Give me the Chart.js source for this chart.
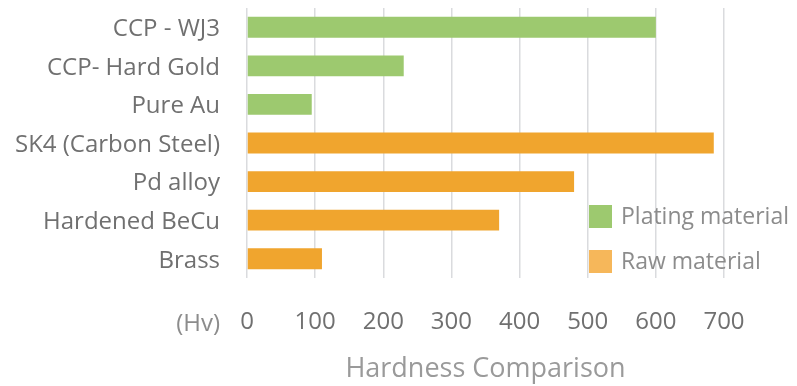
<!DOCTYPE html>
<html>
<head>
<meta charset="utf-8">
<script src="https://cdn.jsdelivr.net/npm/chart.js@4/dist/chart.umd.min.js"></script>
<style>
  html, body { margin: 0; padding: 0; background: #ffffff; }
  #wrap { position: relative; width: 797px; height: 386px; }
</style>
</head>
<body>
<div id="wrap"><canvas id="c" width="797" height="386"></canvas></div>
<script>
const categories = ["CCP - WJ3", "CCP- Hard Gold", "Pure Au", "SK4 (Carbon Steel)", "Pd alloy", "Hardened BeCu", "Brass"];
const platingValues = [600, 230, 95, null, null, null, null];
const rawValues = [null, null, null, 685, 480, 370, 110];
const seriesNames = ["Plating material", "Raw material"];
const xTicks = [0, 100, 200, 300, 400, 500, 600, 700];
const unitLabel = "(Hv)";
const axisTitle = "Hardness Comparison";

const FONT = "'Open Sans', Lato, sans-serif";
const barColors = ["#9DC96F", "#F0A52E"];
const legendColors = ["#9DC96F", "#F6B75A"];

const extrasPlugin = {
  id: 'extras',
  afterDraw(chart) {
    const ctx = chart.ctx;
    const area = chart.chartArea;
    const xs = chart.scales.x;
    ctx.save();
    const tickY = xs.top + 46;
    ctx.font = "24px " + FONT;
    ctx.fillStyle = "#8c8c8c";
    ctx.textAlign = "right";
    ctx.textBaseline = "middle";
    ctx.fillText(unitLabel, area.left - 27, tickY);
    ctx.textAlign = "left";
    chart.data.datasets.forEach((ds, i) => {
      const bx = area.right - 135;
      const by = area.top + 197 + i * 45;
      ctx.fillStyle = legendColors[i];
      ctx.fillRect(bx, by, 23, 23);
      ctx.fillStyle = "#8c8c8c";
      ctx.font = "23px " + FONT;
      ctx.fillText(ds.label, bx + 32, by + 12);
    });
    ctx.restore();
  }
};

function noAutoPad(scale) {
  scale.paddingTop = 0;
  scale.paddingBottom = 0;
  scale.paddingLeft = 0;
  scale.paddingRight = 0;
}

new Chart(document.getElementById('c'), {
  type: 'bar',
  data: {
    labels: categories,
    datasets: [
      { label: seriesNames[0], data: platingValues, backgroundColor: barColors[0] },
      { label: seriesNames[1], data: rawValues, backgroundColor: barColors[1] }
    ]
  },
  options: {
    indexAxis: 'y',
    responsive: false,
    animation: false,
    devicePixelRatio: 1,
    layout: { autoPadding: false, padding: { top: 8, right: 73, bottom: 0, left: 0 } },
    datasets: { bar: { grouped: false, barPercentage: 0.54, categoryPercentage: 1.0 } },
    plugins: { legend: { display: false }, tooltip: { enabled: false } },
    scales: {
      x: {
        min: xTicks[0],
        max: xTicks[xTicks.length - 1],
        afterBuildTicks(scale) { scale.ticks = xTicks.map(v => ({ value: v })); },
        afterFit(scale) { noAutoPad(scale); scale.height = 108; },
        grid: { color: "#dadbde", lineWidth: 1.5, drawTicks: false },
        border: { display: false },
        ticks: { color: "#707070", font: { family: FONT, size: 24 }, padding: 30, maxRotation: 0 },
        title: { display: true, text: axisTitle, color: "#9a9a9a", font: { family: FONT, size: 27 }, padding: { top: 14, bottom: 0 } }
      },
      y: {
        afterFit(scale) { noAutoPad(scale); scale.width = 247; },
        grid: { display: false, drawTicks: false },
        border: { display: false },
        ticks: { color: "#707070", font: { family: FONT, size: 24 }, padding: 27, labelOffset: 2 }
      }
    }
  },
  plugins: [extrasPlugin]
});
</script>
</body>
</html>
